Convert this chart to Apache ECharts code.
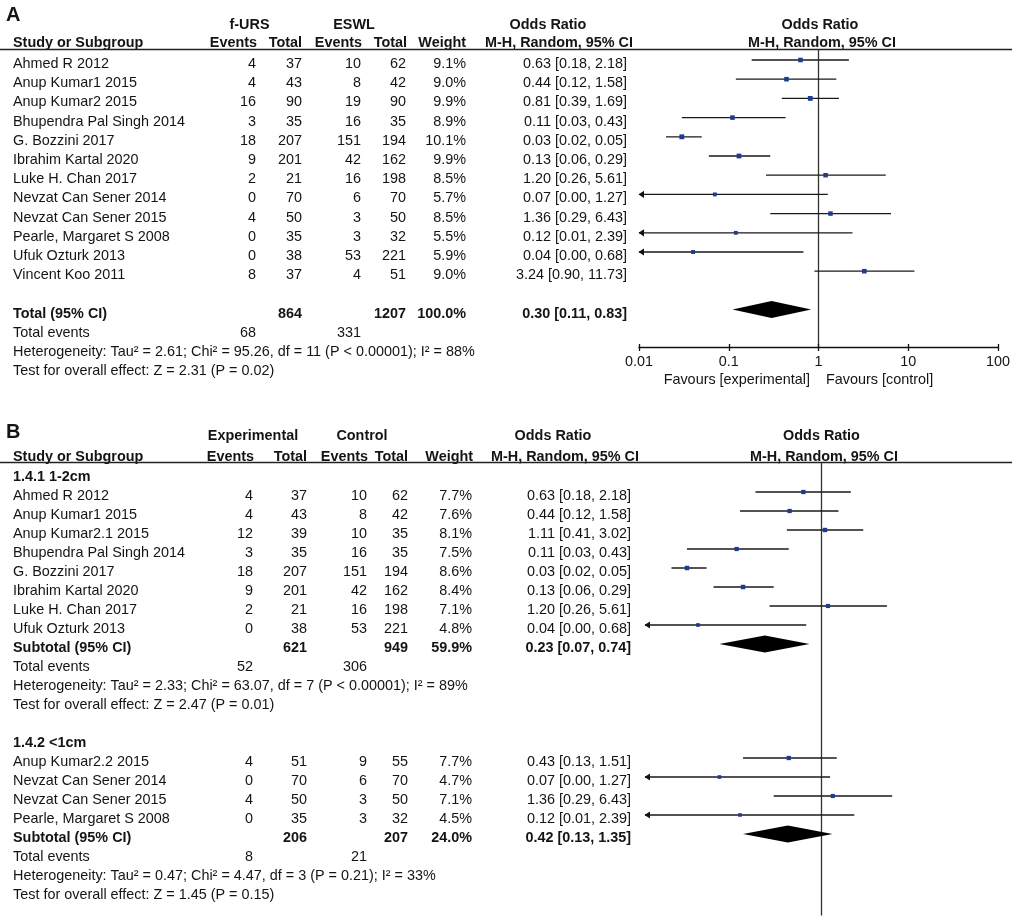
<!DOCTYPE html>
<html><head><meta charset="utf-8">
<script src="https://cdn.jsdelivr.net/npm/echarts@6/dist/echarts.min.js"></script>
<style>html,body{margin:0;padding:0;background:#fff}#c{width:1013px;height:916px}</style>
</head><body><div id="c"></div><script>
// ---------------- Panel A data ----------------
const studiesA = ['Ahmed R 2012','Anup Kumar1 2015','Anup Kumar2 2015','Bhupendra Pal Singh 2014','G. Bozzini 2017','Ibrahim Kartal 2020','Luke H. Chan 2017','Nevzat Can Sener 2014','Nevzat Can Sener 2015','Pearle, Margaret S 2008','Ufuk Ozturk 2013','Vincent Koo 2011'];
const expEventsA = [4,4,16,3,18,9,2,0,4,0,0,8];
const expTotalA  = [37,43,90,35,207,201,21,70,50,35,38,37];
const ctlEventsA = [10,8,19,16,151,42,16,6,3,3,53,4];
const ctlTotalA  = [62,42,90,35,194,162,198,70,50,32,221,51];
const weightA    = [9.1,9.0,9.9,8.9,10.1,9.9,8.5,5.7,8.5,5.5,5.9,9.0];
const orA        = [0.63,0.44,0.81,0.11,0.03,0.13,1.20,0.07,1.36,0.12,0.04,3.24];
const lowA       = [0.18,0.12,0.39,0.03,0.02,0.06,0.26,0.00,0.29,0.01,0.00,0.90];
const highA      = [2.18,1.58,1.69,0.43,0.05,0.29,5.61,1.27,6.43,2.39,0.68,11.73];
const totalA       = [864,1207,100.0];       // exp total, ctl total, weight
const totalOrA     = [0.30,0.11,0.83];       // OR, low, high
const totalEventsA = [68,331];
const hetA  = 'Heterogeneity: Tau² = 2.61; Chi² = 95.26, df = 11 (P < 0.00001); I² = 88%';
const testA = 'Test for overall effect: Z = 2.31 (P = 0.02)';
const axisTicks = [0.01,0.1,1,10,100];
const axisTickLabels = ['0.01','0.1','1','10','100'];

// ---------------- Panel B data ----------------
const group1Title = '1.4.1 1-2cm';
const studiesB1 = ['Ahmed R 2012','Anup Kumar1 2015','Anup Kumar2.1 2015','Bhupendra Pal Singh 2014','G. Bozzini 2017','Ibrahim Kartal 2020','Luke H. Chan 2017','Ufuk Ozturk 2013'];
const expEventsB1 = [4,4,12,3,18,9,2,0];
const expTotalB1  = [37,43,39,35,207,201,21,38];
const ctlEventsB1 = [10,8,10,16,151,42,16,53];
const ctlTotalB1  = [62,42,35,35,194,162,198,221];
const weightB1    = [7.7,7.6,8.1,7.5,8.6,8.4,7.1,4.8];
const orB1        = [0.63,0.44,1.11,0.11,0.03,0.13,1.20,0.04];
const lowB1       = [0.18,0.12,0.41,0.03,0.02,0.06,0.26,0.00];
const highB1      = [2.18,1.58,3.02,0.43,0.05,0.29,5.61,0.68];
const subtotalB1       = [621,949,59.9];
const subtotalOrB1     = [0.23,0.07,0.74];
const subtotalEventsB1 = [52,306];
const hetB1  = 'Heterogeneity: Tau² = 2.33; Chi² = 63.07, df = 7 (P < 0.00001); I² = 89%';
const testB1 = 'Test for overall effect: Z = 2.47 (P = 0.01)';

const group2Title = '1.4.2 <1cm';
const studiesB2 = ['Anup Kumar2.2 2015','Nevzat Can Sener 2014','Nevzat Can Sener 2015','Pearle, Margaret S 2008'];
const expEventsB2 = [4,0,4,0];
const expTotalB2  = [51,70,50,35];
const ctlEventsB2 = [9,6,3,3];
const ctlTotalB2  = [55,70,50,32];
const weightB2    = [7.7,4.7,7.1,4.5];
const orB2        = [0.43,0.07,1.36,0.12];
const lowB2       = [0.13,0.00,0.29,0.01];
const highB2      = [1.51,1.27,6.43,2.39];
const subtotalB2       = [206,207,24.0];
const subtotalOrB2     = [0.42,0.13,1.35];
const subtotalEventsB2 = [8,21];
const hetB2  = 'Heterogeneity: Tau² = 0.47; Chi² = 4.47, df = 3 (P = 0.21); I² = 33%';
const testB2 = 'Test for overall effect: Z = 1.45 (P = 0.15)';

// ---------------- styling / layout ----------------
const FAM = '"Liberation Sans", Arial, Helvetica, sans-serif';
const FS = 14.4;
const TXT = '#141414';
const font = b => (b ? 'bold ' : '') + FS + 'px ' + FAM;
const COLS_A = {name:13, e1:256, t1:302, e2:361, t2:406, w:466, or:627};
const COLS_B = {name:13, e1:253, t1:307, e2:367, t2:408, w:472, or:631};
const fmtOR = (o,l,h) => o.toFixed(2) + ' [' + l.toFixed(2) + ', ' + h.toFixed(2) + ']';
const AXMIN = 0.01;
const Y_A = [(49.5-60)/19.2, (347.5-60)/19.2];
const Y_B = [(462.5-492)/19, (915.5-492)/19];

// ---- build table rows & forest items ----
function studyRows(names, e1, t1, e2, t2, w, o, l, h, start) {
  return names.map((n,i) => ({row:start+i, cells:{name:n, e1:String(e1[i]), t1:String(t1[i]), e2:String(e2[i]), t2:String(t2[i]), w:w[i].toFixed(1)+'%', or:fmtOR(o[i],l[i],h[i])}}));
}
function forestItems(o, l, h, w, start) {
  return o.map((v,i) => [v, start+i, l[i], h[i], w[i]]);
}

const rowsA = studyRows(studiesA, expEventsA, expTotalA, ctlEventsA, ctlTotalA, weightA, orA, lowA, highA, 0).concat([
  {row:13, bold:true, cells:{name:'Total (95% CI)', t1:String(totalA[0]), t2:String(totalA[1]), w:totalA[2].toFixed(1)+'%', or:fmtOR(...totalOrA)}},
  {row:14, cells:{name:'Total events', e1:String(totalEventsA[0]), e2:String(totalEventsA[1])}},
  {row:15, cells:{name:hetA}},
  {row:16, cells:{name:testA}}
]);
const forestA = forestItems(orA, lowA, highA, weightA, 0);
const diamondsA = [[totalOrA[0], 13, totalOrA[1], totalOrA[2]]];

const rowsB = [{row:-1, bold:true, cells:{name:group1Title}}]
 .concat(studyRows(studiesB1, expEventsB1, expTotalB1, ctlEventsB1, ctlTotalB1, weightB1, orB1, lowB1, highB1, 0))
 .concat([
  {row:8, bold:true, cells:{name:'Subtotal (95% CI)', t1:String(subtotalB1[0]), t2:String(subtotalB1[1]), w:subtotalB1[2].toFixed(1)+'%', or:fmtOR(...subtotalOrB1)}},
  {row:9, cells:{name:'Total events', e1:String(subtotalEventsB1[0]), e2:String(subtotalEventsB1[1])}},
  {row:10, cells:{name:hetB1}},
  {row:11, cells:{name:testB1}},
  {row:13, bold:true, cells:{name:group2Title}}
 ])
 .concat(studyRows(studiesB2, expEventsB2, expTotalB2, ctlEventsB2, ctlTotalB2, weightB2, orB2, lowB2, highB2, 14))
 .concat([
  {row:18, bold:true, cells:{name:'Subtotal (95% CI)', t1:String(subtotalB2[0]), t2:String(subtotalB2[1]), w:subtotalB2[2].toFixed(1)+'%', or:fmtOR(...subtotalOrB2)}},
  {row:19, cells:{name:'Total events', e1:String(subtotalEventsB2[0]), e2:String(subtotalEventsB2[1])}},
  {row:20, cells:{name:hetB2}},
  {row:21, cells:{name:testB2}}
 ]);
const forestB = forestItems(orB1, lowB1, highB1, weightB1, 0).concat(forestItems(orB2, lowB2, highB2, weightB2, 14));
const diamondsB = [[subtotalOrB1[0], 8, subtotalOrB1[1], subtotalOrB1[2]], [subtotalOrB2[0], 18, subtotalOrB2[1], subtotalOrB2[2]]];

// ---- render helpers ----
function tableRender(rows, cols) {
  return function(params, api) {
    const r = rows[params.dataIndex];
    const y = api.coord([1, r.row])[1] + 4;
    const ch = [];
    for (const k in r.cells) {
      ch.push({type:'text', x: cols[k], y: y, style:{text:r.cells[k], fill:TXT, font:font(r.bold), align: k==='name'?'left':'right', verticalAlign:'middle'}});
    }
    return {type:'group', children:ch};
  };
}
function ciRender(params, api) {
  const o = api.value(0), row = api.value(1), lo = api.value(2), hi = api.value(3), w = api.value(4);
  const y = api.coord([1, row])[1];
  const xl = api.coord([Math.max(lo, AXMIN), row])[0];
  const xh = api.coord([hi, row])[0];
  const xo = api.coord([o, row])[0];
  const s = 2.6 + w * 0.22;
  const ch = [{type:'line', shape:{x1:xl, y1:y, x2:xh, y2:y}, style:{stroke:'#1a1a1a', lineWidth:1.3}}];
  if (lo <= AXMIN) ch.push({type:'polygon', shape:{points:[[xl-0.5,y],[xl+5,y-3.6],[xl+5,y+3.6]]}, style:{fill:'#111'}});
  ch.push({type:'rect', shape:{x:xo-s/2, y:y-s/2, width:s, height:s}, style:{fill:'#1f3a93'}});
  return {type:'group', children:ch};
}
function diamondRender(params, api) {
  const o = api.value(0), row = api.value(1), lo = api.value(2), hi = api.value(3);
  const y = api.coord([1, row])[1];
  const xl = api.coord([lo, row])[0], xh = api.coord([hi, row])[0], xo = api.coord([o, row])[0];
  return {type:'polygon', shape:{points:[[xl,y],[xo,y-8.5],[xh,y],[xo,y+8.5]]}, style:{fill:'#000'}};
}
function refRender(params, api) {
  const cs = params.coordSys;
  const x = Math.round(api.coord([1, 0])[0]) + 0.5;
  return {type:'line', shape:{x1:x, y1:cs.y, x2:x, y2:cs.y+cs.height}, style:{stroke:'#333', lineWidth:1.3}};
}
function tickRender(params, api) {
  const p = api.coord([api.value(0), api.value(1)]);
  const x = Math.round(p[0]) + 0.5;
  return {type:'line', shape:{x1:x, y1:p[1]-3.5, x2:x, y2:p[1]+3.5}, style:{stroke:'#111', lineWidth:1.3}};
}

// header texts (layout)
function t(text, x, y, align, bold, size) {
  return {type:'text', x:x, y:y, style:{text:text, fill:TXT, font:(bold?'bold ':'') + (size||FS) + 'px ' + FAM, align:align, verticalAlign:'middle'}};
}
const graphics = [
  t('A', 6, 15, 'left', true, 20),
  t('f-URS', 249.5, 25, 'center', true), t('ESWL', 354, 25, 'center', true),
  t('Odds Ratio', 548, 25, 'center', true), t('Odds Ratio', 820, 25, 'center', true),
  t('Study or Subgroup', 13, 43, 'left', true), t('Events', 257, 43, 'right', true), t('Total', 302, 43, 'right', true),
  t('Events', 362, 43, 'right', true), t('Total', 407, 43, 'right', true), t('Weight', 466, 43, 'right', true),
  t('M-H, Random, 95% CI', 559, 43, 'center', true), t('M-H, Random, 95% CI', 822, 43, 'center', true),
  {type:'line', shape:{x1:0, y1:49.5, x2:1012, y2:49.5}, style:{stroke:'#222', lineWidth:1.5}},
  t('Favours [experimental]', 810, 380.5, 'right', false), t('Favours [control]', 826, 380.5, 'left', false),

  t('B', 6, 432, 'left', true, 20),
  t('Experimental', 253, 436.5, 'center', true), t('Control', 362, 436.5, 'center', true),
  t('Odds Ratio', 553, 436.5, 'center', true), t('Odds Ratio', 821.5, 436.5, 'center', true),
  t('Study or Subgroup', 13, 457, 'left', true), t('Events', 254, 457, 'right', true), t('Total', 307, 457, 'right', true),
  t('Events', 368, 457, 'right', true), t('Total', 408, 457, 'right', true), t('Weight', 473, 457, 'right', true),
  t('M-H, Random, 95% CI', 565, 457, 'center', true), t('M-H, Random, 95% CI', 824, 457, 'center', true),
  {type:'line', shape:{x1:0, y1:462.5, x2:1012, y2:462.5}, style:{stroke:'#222', lineWidth:1.5}}
];

const chart = echarts.init(document.getElementById('c'), null, {renderer:'canvas'});
chart.setOption({
  animation:false,
  backgroundColor:'#fff',
  grid:[
    {left:639, width:359, top:49.5, height:298},
    {left:645, width:352, top:462.5, height:453}
  ],
  xAxis:[
    {type:'log', logBase:10, min:0.01, max:100, gridIndex:0, position:'bottom',
     axisLine:{show:true, onZero:false, lineStyle:{color:'#111', width:1.3}},
     axisTick:{show:false},
     axisLabel:{show:true, margin:8, color:TXT, fontSize:FS, fontFamily:FAM,
       formatter: v => { const i = axisTicks.findIndex(a => Math.abs(Math.log10(a)-Math.log10(v))<1e-6); return i>=0 ? axisTickLabels[i] : ''; }},
     splitLine:{show:false}},
    {type:'log', logBase:10, min:0.01, max:100, gridIndex:1, show:false}
  ],
  yAxis:[
    {type:'value', inverse:true, gridIndex:0, min:Y_A[0], max:Y_A[1], show:false},
    {type:'value', inverse:true, gridIndex:1, min:Y_B[0], max:Y_B[1], show:false}
  ],
  graphic: graphics,
  series:[
    {type:'custom', xAxisIndex:0, yAxisIndex:0, data:[[1,0]], renderItem:refRender, silent:true},
    {type:'custom', xAxisIndex:0, yAxisIndex:0, data:axisTicks.map(v=>[v, Y_A[1]]), renderItem:tickRender, silent:true, clip:false},
    {type:'custom', xAxisIndex:0, yAxisIndex:0, data:rowsA.map(r=>[1,r.row]), renderItem:tableRender(rowsA, COLS_A), silent:true, clip:false},
    {type:'custom', xAxisIndex:0, yAxisIndex:0, data:forestA, renderItem:ciRender, silent:true, clip:false},
    {type:'custom', xAxisIndex:0, yAxisIndex:0, data:diamondsA, renderItem:diamondRender, silent:true},
    {type:'custom', xAxisIndex:1, yAxisIndex:1, data:[[1,0]], renderItem:refRender, silent:true},
    {type:'custom', xAxisIndex:1, yAxisIndex:1, data:rowsB.map(r=>[1,r.row]), renderItem:tableRender(rowsB, COLS_B), silent:true, clip:false},
    {type:'custom', xAxisIndex:1, yAxisIndex:1, data:forestB, renderItem:ciRender, silent:true, clip:false},
    {type:'custom', xAxisIndex:1, yAxisIndex:1, data:diamondsB, renderItem:diamondRender, silent:true}
  ]
});
</script></body></html>
